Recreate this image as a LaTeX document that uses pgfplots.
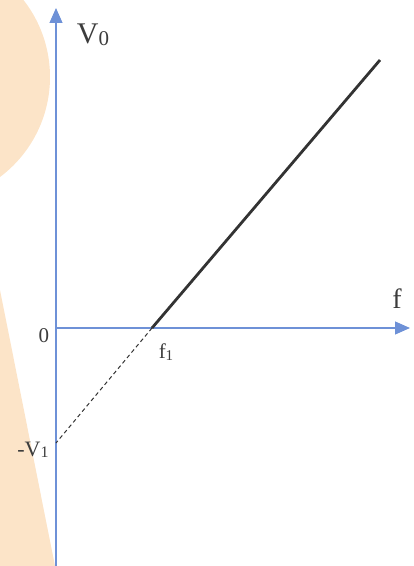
\documentclass[border=0pt]{standalone}
\usepackage{pgfplots}
\pgfplotsset{compat=1.18}
\usepackage{fontspec}
\setmainfont{Liberation Serif}
\usetikzlibrary{arrows.meta}
\definecolor{peach}{RGB}{252,228,200}
\definecolor{axblue}{RGB}{110,145,215}
\definecolor{txt}{RGB}{60,60,60}
\newcommand{\sub}[2]{\raisebox{-1.5pt}{\fontsize{#1}{#1}\selectfont #2}}
\begin{document}
\begin{tikzpicture}
\begin{scope}
\clip (-56pt,0pt) rectangle (358pt,566pt);
\fill[peach] (-131pt,489pt) circle[radius=125pt];
\fill[peach] (-56pt,276pt) -- (-1pt,0pt) -- (-56pt,0pt) -- cycle;
\end{scope}
\begin{axis}[
  scale only axis, x=1pt, y=1pt,
  xmin=0, xmax=354, ymin=-238, ymax=320,
  axis lines=middle,
  axis line style={axblue, line width=1.2pt, -{Triangle[length=15pt,width=13pt]}},
  xtick=\empty, ytick=\empty,
  clip=false,
]
\addplot[black!80, line width=2.8pt, no marks] coordinates {(96,0) (324,268)};
\addplot[black!80, line width=1pt, dashed, dash pattern=on 4pt off 3pt, no marks] coordinates {(96,0) (0,-115)};
\node[txt, font=\fontsize{30}{32}\selectfont] at (axis cs:37,293) {V\sub{21}{0}};
\node[txt, font=\fontsize{28}{30}\selectfont] at (axis cs:341,29) {f};
\node[txt, font=\fontsize{21}{24}\selectfont] at (axis cs:-12,-8) {0};
\node[txt, font=\fontsize{21}{24}\selectfont] at (axis cs:110,-24) {f\sub{15}{1}};
\node[txt, font=\fontsize{22}{24}\selectfont] at (axis cs:-23,-122) {-V\sub{16}{1}};
\end{axis}
\pgfresetboundingbox
\path (-56pt,0pt) rectangle (358pt,566pt);
\end{tikzpicture}
\end{document}
